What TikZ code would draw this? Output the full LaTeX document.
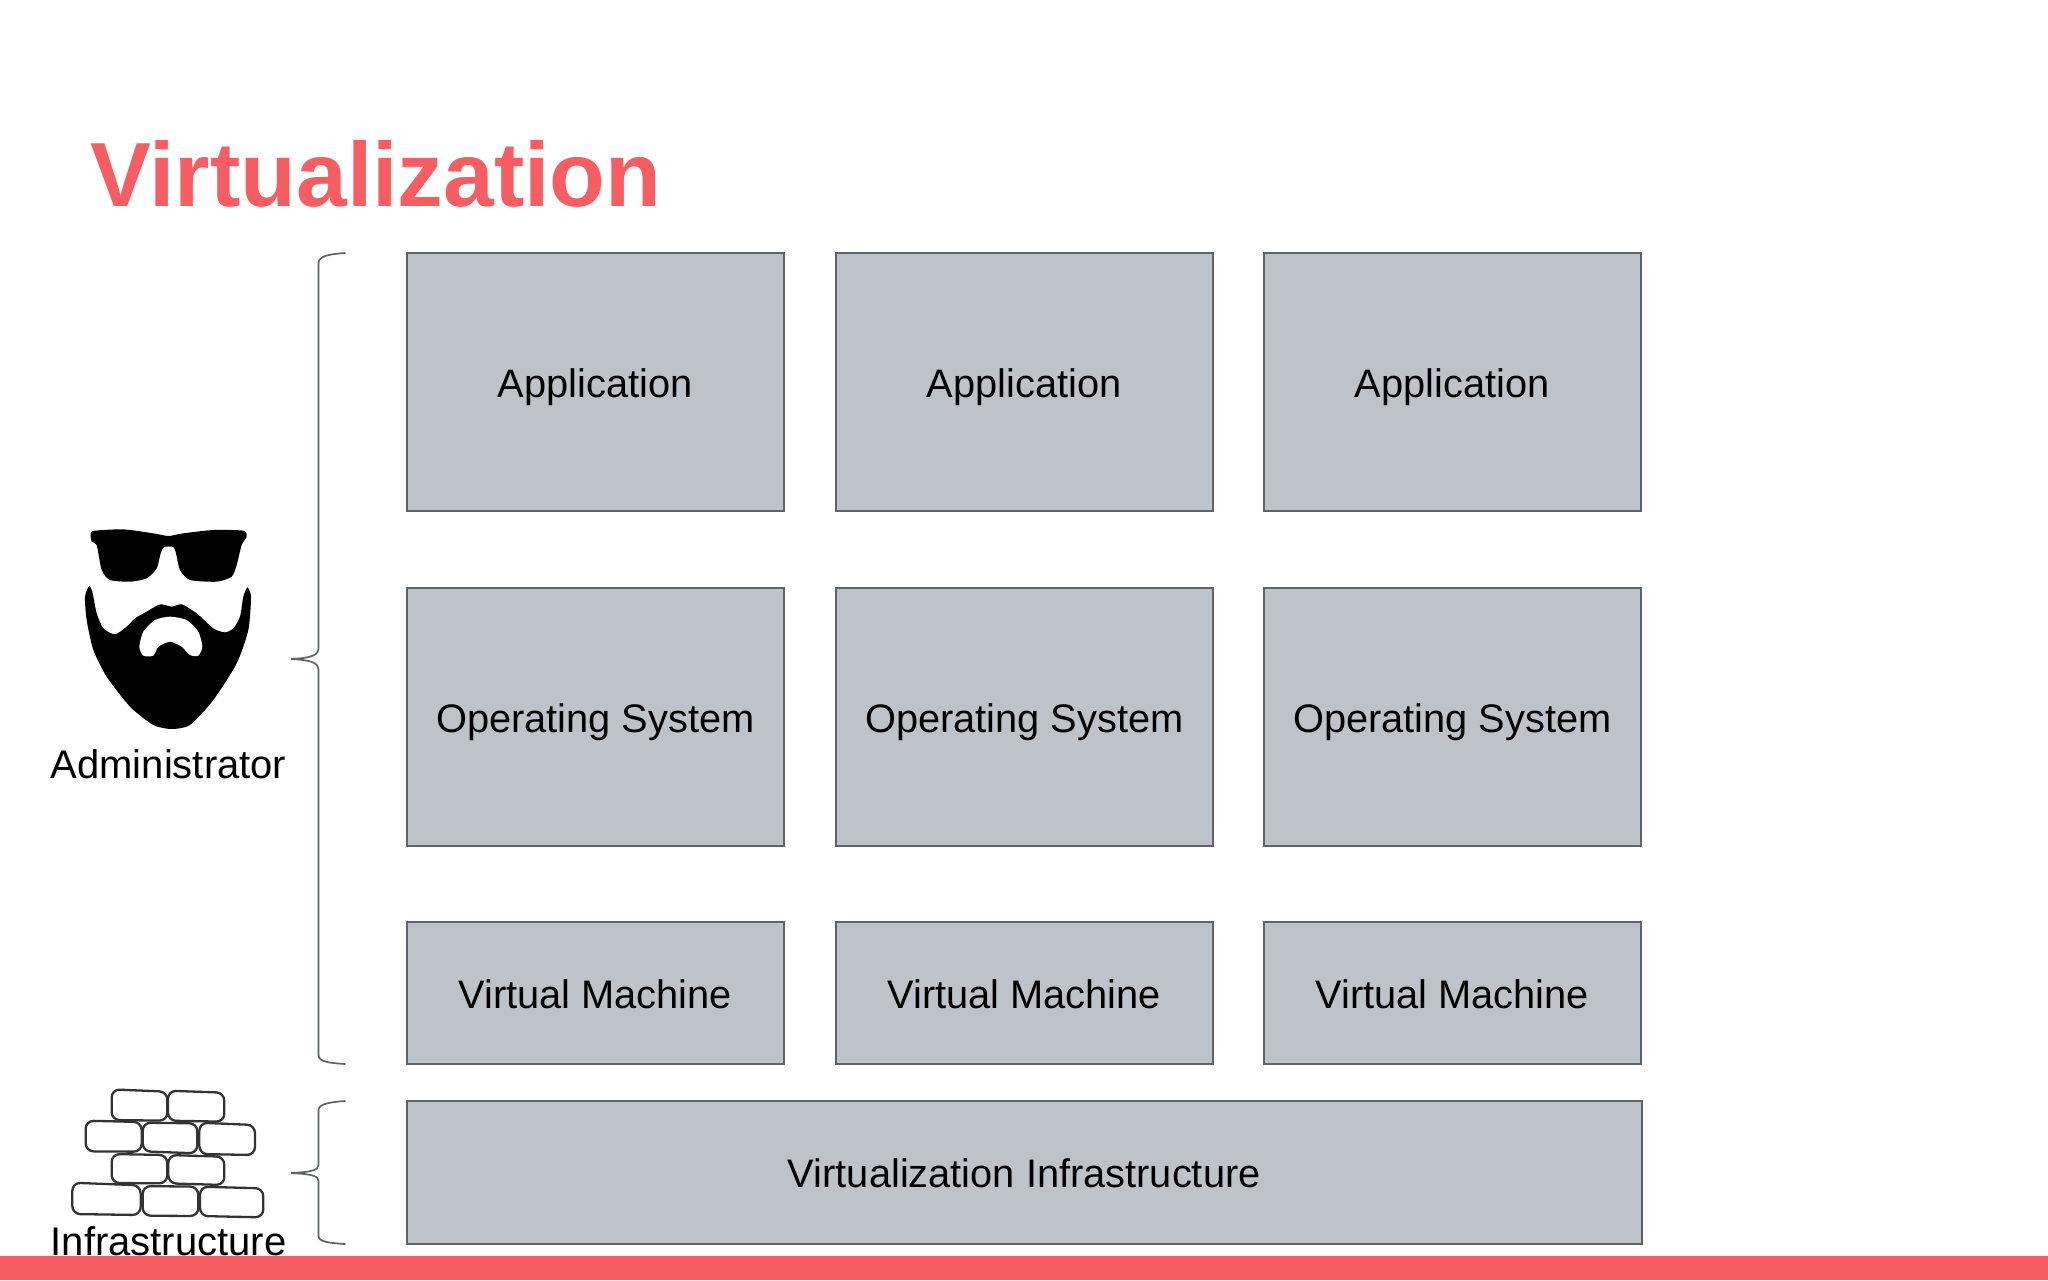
\documentclass[tikz,border=0pt]{standalone}
\usepackage{fontspec}
\setmainfont{Liberation Sans}
\definecolor{boxfill}{HTML}{BEC3C9}
\definecolor{boxline}{HTML}{5E6367}
\definecolor{redbar}{HTML}{F65E63}
\tikzset{
  tier/.style={draw=boxline,fill=boxfill,line width=0.9pt,inner sep=0pt,outer sep=0pt,anchor=north west,align=center,
    font=\fontsize{19.9}{24}\selectfont,text=black,text height=15pt,text depth=0pt},
  appbox/.style={tier,minimum width=188.7pt,minimum height=129pt},
  vmbox/.style={tier,minimum width=188.7pt,minimum height=71pt},
  infrabox/.style={tier,minimum width=617.7pt,minimum height=71.5pt},
  bracket/.style={draw=boxline,line width=0.85pt,line cap=round},
  sidelabel/.style={font=\fontsize{20}{24}\selectfont,text=black,anchor=base,inner sep=0pt},
  brick/.style={draw=black!80,line width=1.15pt,fill=white,rounded corners=4pt}
}
\begin{document}
\begin{tikzpicture}[x=0.5pt,y=-0.5pt]
\useasboundingbox (0,0) rectangle (2048,1280);
\fill[white] (0,0) rectangle (2048,1280);
\node[anchor=base west,inner sep=0pt,text=redbar,font=\fontsize{45.6}{50}\selectfont\bfseries] (title) at (90,206) {Virtualization};

\node[appbox] (a1) at (406.6,253) {Application};
\node[appbox] (a2) at (835.6,253) {Application};
\node[appbox] (a3) at (1263.6,253) {Application};
\node[appbox] (o1) at (406.6,588) {Operating System};
\node[appbox] (o2) at (835.6,588) {Operating System};
\node[appbox] (o3) at (1263.6,588) {Operating System};
\node[vmbox] (v1) at (406.6,922) {Virtual Machine};
\node[vmbox] (v2) at (835.6,922) {Virtual Machine};
\node[vmbox] (v3) at (1263.6,922) {Virtual Machine};
\node[infrabox] (infra) at (406.6,1101) {Virtualization Infrastructure};

% braces
\draw[bracket] (345,253) .. controls (330,254) and (318.5,256) .. (318.5,263) -- (318.5,648)
  .. controls (318.5,655) and (312,658) .. (291,659) .. controls (312,660) and (318.5,663) .. (318.5,670)
  -- (318.5,1055) .. controls (318.5,1062) and (330,1063) .. (345,1064);
\draw[bracket] (345,1101) .. controls (330,1102) and (318.5,1104) .. (318.5,1110) -- (318.5,1165)
  .. controls (318.5,1170) and (312,1172) .. (291,1173) .. controls (312,1174) and (318.5,1176) .. (318.5,1181)
  -- (318.5,1236) .. controls (318.5,1242) and (330,1243) .. (345,1244);

% administrator icon
\begin{scope}[shift={(40,500)},x=0.16667pt,y=-0.16667pt]
\fill[black] plot[smooth cycle,tension=0.4] coordinates {(152,100) (165,92) (250,88) (340,100) (385,108) (430,100) (520,90) (610,92) (620,110) (605,135) (590,195) (575,230) (530,245) (450,240) (420,210) (408,160) (400,141) (372,141) (362,160) (350,205) (320,235) (270,245) (210,240) (185,210) (170,135) (155,125)};
\fill[black] plot[smooth cycle,tension=0.4] coordinates {(148,258) (135,290) (140,360) (160,450) (200,530) (270,620) (340,675) (395,687) (450,675) (520,600) (590,490) (625,390) (633,290) (622,262) (610,290) (600,350) (580,385) (555,397) (520,385) (470,340) (425,313) (395,320) (360,313) (320,335) (285,355) (260,380) (225,403) (190,385) (170,340) (158,280)};
\fill[white] plot[smooth cycle,tension=0.4] coordinates {(298,440) (310,395) (345,360) (390,350) (440,360) (475,395) (487,440) (475,467) (450,465) (425,440) (390,425) (355,440) (340,467) (310,467)};
\end{scope}

% brick wall icon
\begin{scope}[shift={(40,1060)},x=0.16667pt,y=-0.16667pt]
\draw[brick] (215,88) -- (382,95) -- (382,182) -- (215,180) -- cycle;
\draw[brick] (384,92) -- (553,98) -- (553,185) -- (384,182) -- cycle;
\draw[brick] (137,182) -- (305,186) -- (305,275) -- (137,274) -- cycle;
\draw[brick] (308,188) -- (472,190) -- (472,280) -- (308,274) -- cycle;
\draw[brick] (478,188) -- (645,195) -- (645,285) -- (478,282) -- cycle;
\draw[brick] (215,282) -- (382,285) -- (382,370) -- (215,369) -- cycle;
\draw[brick] (385,285) -- (553,290) -- (553,375) -- (385,370) -- cycle;
\draw[brick] (97,368) -- (302,376) -- (302,465) -- (97,462) -- cycle;
\draw[brick] (308,378) -- (475,380) -- (475,468) -- (308,467) -- cycle;
\draw[brick] (480,380) -- (670,385) -- (670,472) -- (480,468) -- cycle;
\end{scope}

\node[sidelabel] (admin) at (168.5,778) {Administrator};
\node[sidelabel] (infl) at (168.5,1255) {Infrastructure};
\fill[redbar] (0,1256) rectangle (2048,1280);
\end{tikzpicture}
\end{document}
